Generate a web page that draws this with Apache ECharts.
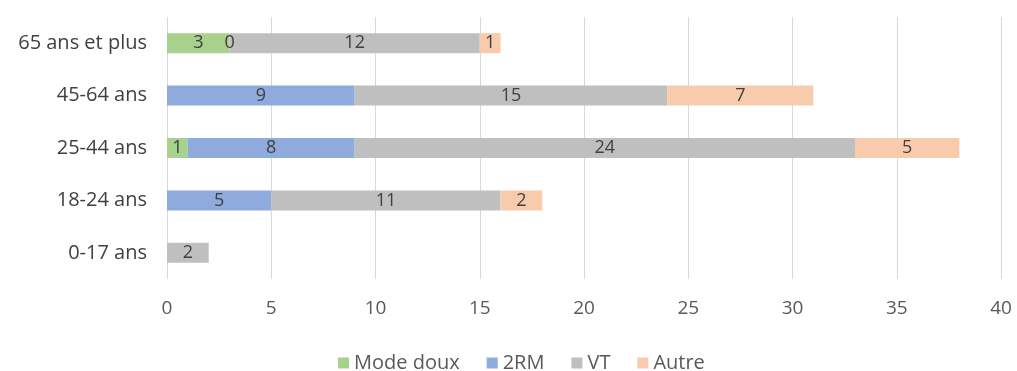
<!DOCTYPE html>
<html>
<head>
<meta charset="utf-8">
<script src="https://cdn.jsdelivr.net/npm/echarts@6/dist/echarts.min.js"></script>
<style>
  html, body { margin: 0; padding: 0; background: #fff; }
  #chart { width: 1017px; height: 371px; }
</style>
</head>
<body>
<div id="chart"></div>
<script>
// Age groups, listed bottom to top
const categories = ['0-17 ans', '18-24 ans', '25-44 ans', '45-64 ans', '65 ans et plus'];
const seriesNames = ['Mode doux', '2RM', 'VT', 'Autre'];
const modeDoux = [null, null, 1, null, 3];
const deuxRM   = [null, 5, 8, 9, 0];
const vt       = [2, 11, 24, 15, 12];
const autre    = [null, 2, 5, 7, 1];
const xTicks = [0, 5, 10, 15, 20, 25, 30, 35, 40];
const colors = ['#a9d18e', '#8faadc', '#bfbfbf', '#f8cbad'];

const FONT = '"Open Sans", "Noto Sans", sans-serif';
const values = [modeDoux, deuxRM, vt, autre];

const chart = echarts.init(document.getElementById('chart'), null, { renderer: 'canvas' });
chart.setOption({
  animation: false,
  color: colors,
  textStyle: { fontFamily: FONT },
  grid: { left: 167, right: 16, top: 17, bottom: 92, containLabel: false },
  legend: {
    top: 348,
    left: 333,
    itemWidth: 11,
    itemHeight: 11,
    itemGap: 27,
    icon: 'rect',
    textStyle: { fontSize: 20, color: '#595959', fontFamily: FONT },
    data: seriesNames
  },
  xAxis: {
    type: 'value',
    min: xTicks[0],
    max: xTicks[xTicks.length - 1],
    interval: xTicks[1] - xTicks[0],
    axisLine: { show: false },
    axisTick: { show: false },
    splitLine: { show: true, lineStyle: { color: '#d9d9d9', width: 1 } },
    axisLabel: { color: '#595959', fontSize: 19, margin: 20, fontFamily: FONT }
  },
  yAxis: {
    type: 'category',
    data: categories,
    axisLine: { show: false },
    axisTick: { show: false },
    axisLabel: { color: '#404040', fontSize: 20, margin: 20, fontFamily: FONT }
  },
  series: seriesNames.map((name, i) => ({
    name,
    type: 'bar',
    stack: 'total',
    barWidth: 20,
    data: values[i],
    label: {
      show: true,
      position: 'inside',
      color: '#404040',
      fontSize: 18,
      fontFamily: FONT,
      formatter: p => (p.value === null || p.value === undefined ? '' : String(p.value))
    }
  }))
});
</script>
</body>
</html>
